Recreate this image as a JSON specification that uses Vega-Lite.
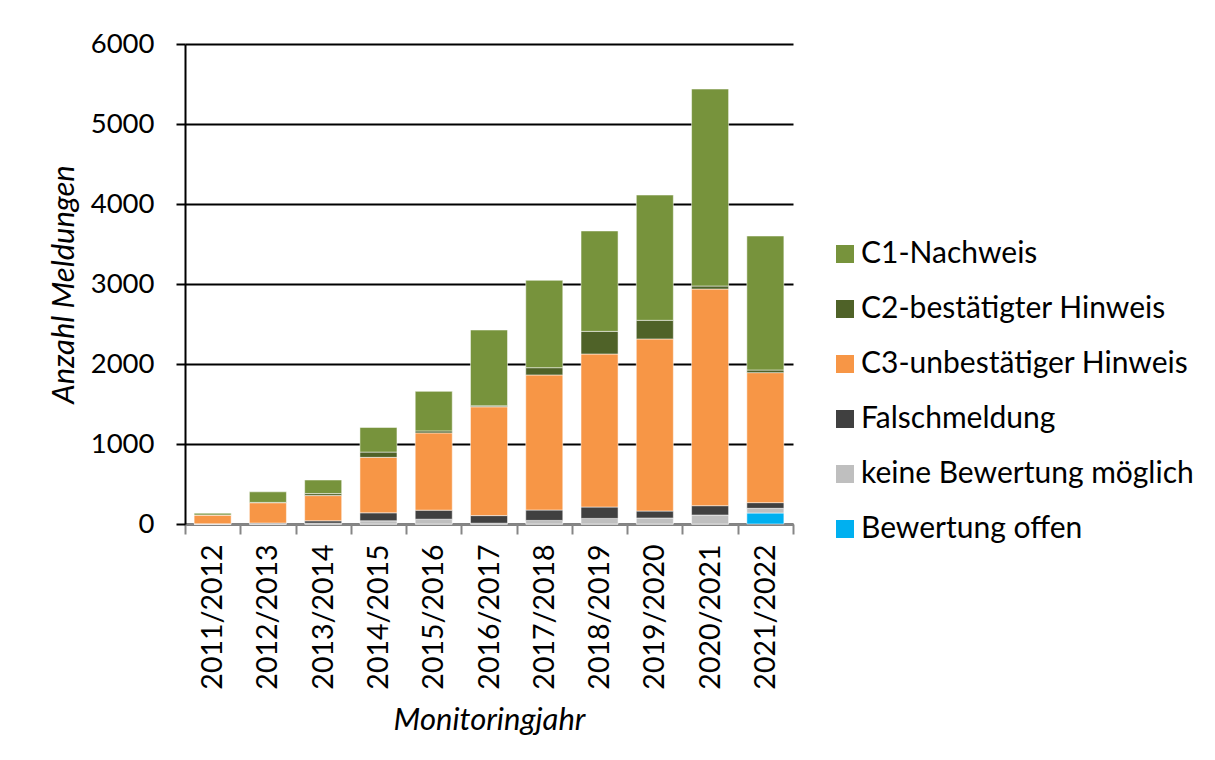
{
  "$schema": "https://vega.github.io/schema/vega-lite/v6.json",
  "autosize": "none",
  "width": 608,
  "height": 480,
  "padding": {"left": 185, "top": 44, "right": 422, "bottom": 236},
  "background": "white",
  "config": {
    "view": {"stroke": null},
    "font": "Lato",
    "axis": {"labelFont": "Lato", "titleFont": "Lato", "labelColor": "#000000", "titleColor": "#000000"},
    "legend": {"labelFont": "Lato"}
  },
  "data": {
    "values": [
      {"jahr": "2011/2012", "kategorie": "Bewertung offen", "rang": 1, "anzahl": 0},
      {"jahr": "2011/2012", "kategorie": "keine Bewertung möglich", "rang": 2, "anzahl": 0},
      {"jahr": "2011/2012", "kategorie": "Falschmeldung", "rang": 3, "anzahl": 3},
      {"jahr": "2011/2012", "kategorie": "C3-unbestätiger Hinweis", "rang": 4, "anzahl": 110},
      {"jahr": "2011/2012", "kategorie": "C2-bestätigter Hinweis", "rang": 5, "anzahl": 0},
      {"jahr": "2011/2012", "kategorie": "C1-Nachweis", "rang": 6, "anzahl": 22},

      {"jahr": "2012/2013", "kategorie": "Bewertung offen", "rang": 1, "anzahl": 0},
      {"jahr": "2012/2013", "kategorie": "keine Bewertung möglich", "rang": 2, "anzahl": 2},
      {"jahr": "2012/2013", "kategorie": "Falschmeldung", "rang": 3, "anzahl": 10},
      {"jahr": "2012/2013", "kategorie": "C3-unbestätiger Hinweis", "rang": 4, "anzahl": 254},
      {"jahr": "2012/2013", "kategorie": "C2-bestätigter Hinweis", "rang": 5, "anzahl": 4},
      {"jahr": "2012/2013", "kategorie": "C1-Nachweis", "rang": 6, "anzahl": 132},

      {"jahr": "2013/2014", "kategorie": "Bewertung offen", "rang": 1, "anzahl": 0},
      {"jahr": "2013/2014", "kategorie": "keine Bewertung möglich", "rang": 2, "anzahl": 10},
      {"jahr": "2013/2014", "kategorie": "Falschmeldung", "rang": 3, "anzahl": 30},
      {"jahr": "2013/2014", "kategorie": "C3-unbestätiger Hinweis", "rang": 4, "anzahl": 315},
      {"jahr": "2013/2014", "kategorie": "C2-bestätigter Hinweis", "rang": 5, "anzahl": 25},
      {"jahr": "2013/2014", "kategorie": "C1-Nachweis", "rang": 6, "anzahl": 170},

      {"jahr": "2014/2015", "kategorie": "Bewertung offen", "rang": 1, "anzahl": 0},
      {"jahr": "2014/2015", "kategorie": "keine Bewertung möglich", "rang": 2, "anzahl": 40},
      {"jahr": "2014/2015", "kategorie": "Falschmeldung", "rang": 3, "anzahl": 100},
      {"jahr": "2014/2015", "kategorie": "C3-unbestätiger Hinweis", "rang": 4, "anzahl": 693},
      {"jahr": "2014/2015", "kategorie": "C2-bestätigter Hinweis", "rang": 5, "anzahl": 66},
      {"jahr": "2014/2015", "kategorie": "C1-Nachweis", "rang": 6, "anzahl": 308},

      {"jahr": "2015/2016", "kategorie": "Bewertung offen", "rang": 1, "anzahl": 0},
      {"jahr": "2015/2016", "kategorie": "keine Bewertung möglich", "rang": 2, "anzahl": 60},
      {"jahr": "2015/2016", "kategorie": "Falschmeldung", "rang": 3, "anzahl": 113},
      {"jahr": "2015/2016", "kategorie": "C3-unbestätiger Hinweis", "rang": 4, "anzahl": 966},
      {"jahr": "2015/2016", "kategorie": "C2-bestätigter Hinweis", "rang": 5, "anzahl": 25},
      {"jahr": "2015/2016", "kategorie": "C1-Nachweis", "rang": 6, "anzahl": 494},

      {"jahr": "2016/2017", "kategorie": "Bewertung offen", "rang": 1, "anzahl": 0},
      {"jahr": "2016/2017", "kategorie": "keine Bewertung möglich", "rang": 2, "anzahl": 10},
      {"jahr": "2016/2017", "kategorie": "Falschmeldung", "rang": 3, "anzahl": 95},
      {"jahr": "2016/2017", "kategorie": "C3-unbestätiger Hinweis", "rang": 4, "anzahl": 1360},
      {"jahr": "2016/2017", "kategorie": "C2-bestätigter Hinweis", "rang": 5, "anzahl": 12},
      {"jahr": "2016/2017", "kategorie": "C1-Nachweis", "rang": 6, "anzahl": 948},

      {"jahr": "2017/2018", "kategorie": "Bewertung offen", "rang": 1, "anzahl": 0},
      {"jahr": "2017/2018", "kategorie": "keine Bewertung möglich", "rang": 2, "anzahl": 45},
      {"jahr": "2017/2018", "kategorie": "Falschmeldung", "rang": 3, "anzahl": 130},
      {"jahr": "2017/2018", "kategorie": "C3-unbestätiger Hinweis", "rang": 4, "anzahl": 1688},
      {"jahr": "2017/2018", "kategorie": "C2-bestätigter Hinweis", "rang": 5, "anzahl": 91},
      {"jahr": "2017/2018", "kategorie": "C1-Nachweis", "rang": 6, "anzahl": 1092},

      {"jahr": "2018/2019", "kategorie": "Bewertung offen", "rang": 1, "anzahl": 0},
      {"jahr": "2018/2019", "kategorie": "keine Bewertung möglich", "rang": 2, "anzahl": 70},
      {"jahr": "2018/2019", "kategorie": "Falschmeldung", "rang": 3, "anzahl": 142},
      {"jahr": "2018/2019", "kategorie": "C3-unbestätiger Hinweis", "rang": 4, "anzahl": 1913},
      {"jahr": "2018/2019", "kategorie": "C2-bestätigter Hinweis", "rang": 5, "anzahl": 283},
      {"jahr": "2018/2019", "kategorie": "C1-Nachweis", "rang": 6, "anzahl": 1255},

      {"jahr": "2019/2020", "kategorie": "Bewertung offen", "rang": 1, "anzahl": 0},
      {"jahr": "2019/2020", "kategorie": "keine Bewertung möglich", "rang": 2, "anzahl": 75},
      {"jahr": "2019/2020", "kategorie": "Falschmeldung", "rang": 3, "anzahl": 87},
      {"jahr": "2019/2020", "kategorie": "C3-unbestätiger Hinweis", "rang": 4, "anzahl": 2151},
      {"jahr": "2019/2020", "kategorie": "C2-bestätigter Hinweis", "rang": 5, "anzahl": 233},
      {"jahr": "2019/2020", "kategorie": "C1-Nachweis", "rang": 6, "anzahl": 1566},

      {"jahr": "2020/2021", "kategorie": "Bewertung offen", "rang": 1, "anzahl": 0},
      {"jahr": "2020/2021", "kategorie": "keine Bewertung möglich", "rang": 2, "anzahl": 112},
      {"jahr": "2020/2021", "kategorie": "Falschmeldung", "rang": 3, "anzahl": 117},
      {"jahr": "2020/2021", "kategorie": "C3-unbestätiger Hinweis", "rang": 4, "anzahl": 2708},
      {"jahr": "2020/2021", "kategorie": "C2-bestätigter Hinweis", "rang": 5, "anzahl": 38},
      {"jahr": "2020/2021", "kategorie": "C1-Nachweis", "rang": 6, "anzahl": 2462},

      {"jahr": "2021/2022", "kategorie": "Bewertung offen", "rang": 1, "anzahl": 137},
      {"jahr": "2021/2022", "kategorie": "keine Bewertung möglich", "rang": 2, "anzahl": 59},
      {"jahr": "2021/2022", "kategorie": "Falschmeldung", "rang": 3, "anzahl": 71},
      {"jahr": "2021/2022", "kategorie": "C3-unbestätiger Hinweis", "rang": 4, "anzahl": 1625},
      {"jahr": "2021/2022", "kategorie": "C2-bestätigter Hinweis", "rang": 5, "anzahl": 33},
      {"jahr": "2021/2022", "kategorie": "C1-Nachweis", "rang": 6, "anzahl": 1675}
    ]
  },
  "mark": {"type": "bar", "width": {"band": 0.67}, "stroke": "#ffffff", "strokeOpacity": 0.5, "strokeWidth": 1},
  "encoding": {
    "x": {
      "field": "jahr",
      "type": "nominal",
      "sort": null,
      "scale": {"paddingInner": 0, "paddingOuter": 0},
      "axis": {
        "title": "Monitoringjahr",
        "titleFontSize": 31,
        "titleFontStyle": "italic",
        "titleFontWeight": "normal",
        "titlePadding": 16,
        "labelAngle": -90,
        "labelFontSize": 28.5,
        "labelPadding": 10,
        "tickBand": "extent",
        "tickSize": 10,
        "tickColor": "#868686",
        "tickWidth": 2,
        "domainColor": "#868686",
        "domainWidth": 2,
        "grid": false
      }
    },
    "y": {
      "field": "anzahl",
      "type": "quantitative",
      "stack": "zero",
      "scale": {"domain": [0, 6000]},
      "axis": {
        "title": "Anzahl Meldungen",
        "titleFontSize": 31,
        "titleFontStyle": "italic",
        "titleFontWeight": "normal",
        "titlePadding": 10,
        "values": [0, 1000, 2000, 3000, 4000, 5000, 6000],
        "format": "d",
        "labelFontSize": 27.5,
        "labelPadding": 22,
        "tickSize": 9,
        "tickColor": "#000000",
        "tickWidth": 2,
        "domainColor": "#000000",
        "domainWidth": 2,
        "grid": true,
        "gridColor": "#000000",
        "gridWidth": 2
      }
    },
    "color": {
      "field": "kategorie",
      "type": "nominal",
      "scale": {
        "domain": ["C1-Nachweis", "C2-bestätigter Hinweis", "C3-unbestätiger Hinweis", "Falschmeldung", "keine Bewertung möglich", "Bewertung offen"],
        "range": ["#77933C", "#4F6228", "#F79646", "#404040", "#BFBFBF", "#00B0F0"]
      },
      "legend": {
        "title": null,
        "orient": "none",
        "legendX": 645,
        "legendY": 195,
        "symbolType": "square",
        "symbolSize": 324,
        "symbolStrokeWidth": 0,
        "labelFontSize": 30,
        "labelColor": "#000000",
        "labelOffset": 1,
        "labelLimit": 0,
        "rowPadding": 25
      }
    },
    "order": {"field": "rang", "type": "quantitative", "sort": "ascending"}
  }
}
